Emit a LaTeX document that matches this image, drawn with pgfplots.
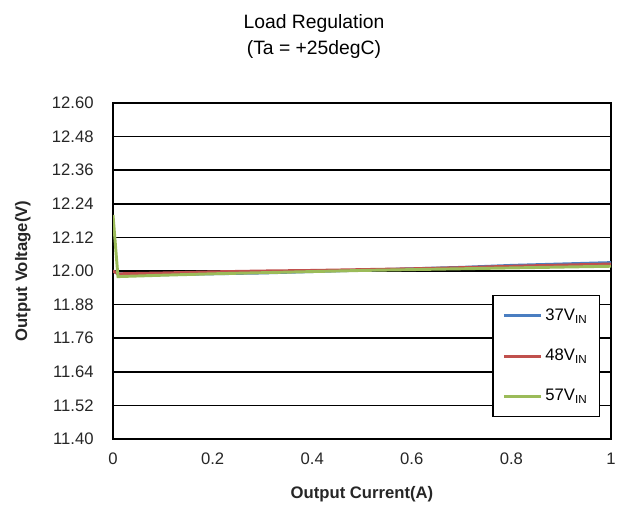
\documentclass[border=0pt]{standalone}
\usepackage{fontspec}
\setmainfont{Liberation Sans}
\usepackage{pgfplots}
\pgfplotsset{compat=1.18}
\definecolor{c37}{RGB}{74,126,193}
\definecolor{c48}{RGB}{192,80,77}
\definecolor{c57}{RGB}{155,187,89}
\begin{document}
\begin{tikzpicture}
% page = 634x526 px at 0.75 pt per px
\useasboundingbox (-84.75pt,-65.25pt) rectangle (390.75pt,329.25pt);
\begin{axis}[
  at={(0,0)}, anchor=south west,
  width=373.5pt, height=252pt, scale only axis,
  xmin=0, xmax=1, ymin=11.40, ymax=12.60,
  xtick={0,0.2,0.4,0.6,0.8,1},
  xticklabels={0,0.2,0.4,0.6,0.8,1},
  ytick={11.40,11.52,11.64,11.76,11.88,12.00,12.12,12.24,12.36,12.48,12.60},
  /pgf/number format/assume math mode=true,
  ticklabel style={font=\fontsize{12.5}{14}\selectfont, text=black!85},
  yticklabel style={/pgf/number format/fixed, /pgf/number format/fixed zerofill,
    /pgf/number format/precision=2, xshift=-11pt},
  xticklabel style={yshift=-7pt},
  tick style={draw=none},
  axis line style={black, line width=1.3pt},
  ymajorgrids, grid style={black, line width=1.3pt},
  xlabel={\textbf{Output Current(A)}},
  ylabel={\textbf{Output Voltage(V)}},
  label style={font=\fontsize{12.5}{14}\selectfont, text=black!85},
  xlabel style={yshift=-9pt},
  ylabel style={yshift=9pt},
  title={Load Regulation\\(Ta = +25degC)},
  title style={align=center, font=\fontsize{14.5}{19}\selectfont, xshift=-36pt, yshift=24pt},
  legend style={at={(0.978,0.0655)}, anchor=south east, draw=black, line width=1pt,
    font=\fontsize{12.5}{14}\selectfont, row sep=16pt, inner xsep=7pt, inner ysep=8pt, fill=white},
  legend cell align=left,
  legend image code/.code={\draw[#1, line width=2.2pt] (0cm,0cm) -- (28pt,0cm);},
]
\addplot[c37, line width=2.2pt] coordinates {
 (0,12.00) (0.01,11.99) (0.1,11.987) (0.2,11.99) (0.3,11.993) (0.4,11.998) (0.5,12.003) (0.6,12.008) (0.7,12.013) (0.8,12.02) (0.9,12.025) (1,12.03)};
\addlegendentry{37V\textsubscript{IN}}
\addplot[c48, line width=2.2pt] coordinates {
 (0,12.00) (0.01,11.99) (0.1,11.993) (0.2,11.997) (0.3,12.0) (0.4,12.002) (0.5,12.005) (0.6,12.008) (0.7,12.012) (0.8,12.017) (0.9,12.021) (1,12.025)};
\addlegendentry{48V\textsubscript{IN}}
\addplot[c57, line width=2.2pt] coordinates {
 (0,12.20) (0.01,11.98) (0.1,11.985) (0.2,11.99) (0.3,11.994) (0.4,11.998) (0.5,12.002) (0.6,12.005) (0.7,12.008) (0.8,12.011) (0.9,12.014) (1,12.017)};
\addlegendentry{57V\textsubscript{IN}}
\end{axis}
\end{tikzpicture}
\end{document}
